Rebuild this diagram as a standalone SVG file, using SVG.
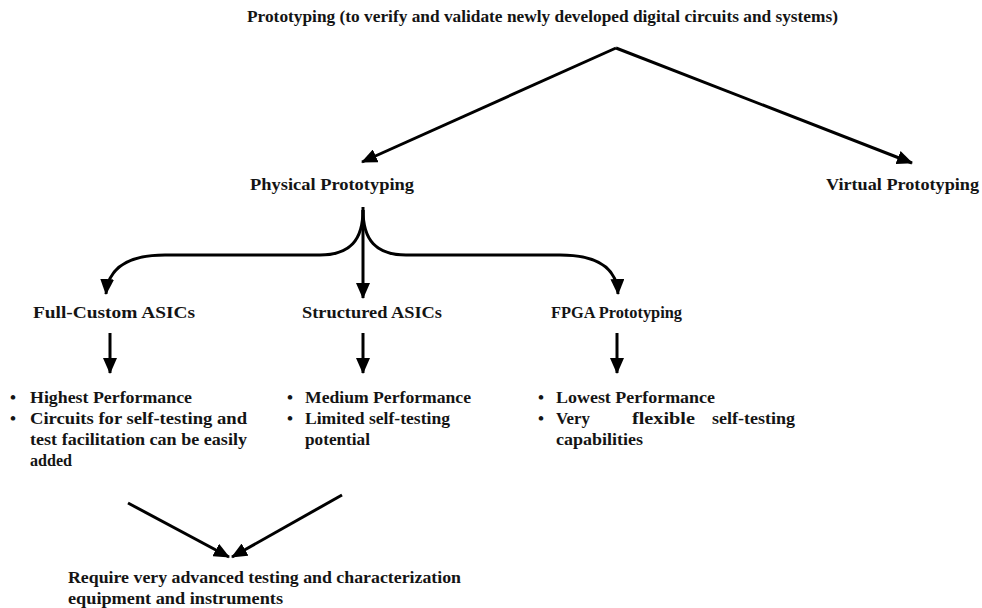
<svg xmlns="http://www.w3.org/2000/svg" width="982" height="608" viewBox="0 0 982 608">
<style>
text{font-family:"Liberation Serif","Times New Roman",serif;font-weight:bold;font-size:17px;fill:#141414}
.c{fill:none;stroke:#000;stroke-width:3}
</style>
<defs>
<marker id="ah" markerUnits="userSpaceOnUse" markerWidth="16" markerHeight="14" refX="15" refY="7" orient="auto">
<path d="M0,0 L16,7 L0,14 Z" fill="#000"/>
</marker>
</defs>
<rect width="982" height="608" fill="#fff"/>
<g id="connectors">
<path class="c" d="M616,48 L362,162" marker-end="url(#ah)"/>
<path class="c" d="M616,48 L912,163" marker-end="url(#ah)"/>
<path class="c" d="M363,207 L363,298" marker-end="url(#ah)"/>
<path class="c" d="M363,210 C363,240 350,255 320,255 L165,255 C128,255 108,268 106,294" marker-end="url(#ah)"/>
<path class="c" d="M363,210 C363,240 376,255 406,255 L560,255 C598,255 617,268 618,294" marker-end="url(#ah)"/>
<path class="c" d="M110,333 L110,373" marker-end="url(#ah)"/>
<path class="c" d="M363,333 L363,373" marker-end="url(#ah)"/>
<path class="c" d="M617,333 L617,373" marker-end="url(#ah)"/>
<path class="c" d="M128,503 L229,557" marker-end="url(#ah)"/>
<path class="c" d="M342,495 L232,557" marker-end="url(#ah)"/>
</g>
<g id="root"><text x="247" y="22" textLength="591" lengthAdjust="spacingAndGlyphs">Prototyping (to verify and validate newly developed digital circuits and systems)</text></g>
<g id="physical"><text x="250" y="190" textLength="164" lengthAdjust="spacingAndGlyphs">Physical Prototyping</text></g>
<g id="virtual"><text x="826" y="190" textLength="153" lengthAdjust="spacingAndGlyphs">Virtual Prototyping</text></g>
<g id="fullcustom"><text x="33" y="318" textLength="162" lengthAdjust="spacingAndGlyphs">Full-Custom ASICs</text></g>
<g id="structured"><text x="302" y="318" textLength="140" lengthAdjust="spacingAndGlyphs">Structured ASICs</text></g>
<g id="fpga"><text x="551" y="318" textLength="131" lengthAdjust="spacingAndGlyphs">FPGA Prototyping</text></g>
<g id="fullcustom-notes">
<text x="10" y="403">•</text><text x="30" y="403" textLength="162" lengthAdjust="spacingAndGlyphs">Highest Performance</text>
<text x="10" y="424">•</text><text x="30" y="424" textLength="217" lengthAdjust="spacingAndGlyphs">Circuits for self-testing and</text>
<text x="30" y="445" textLength="217" lengthAdjust="spacingAndGlyphs">test facilitation can be easily</text>
<text x="30" y="466" textLength="42" lengthAdjust="spacingAndGlyphs">added</text>
</g>
<g id="structured-notes">
<text x="287" y="403">•</text><text x="305" y="403" textLength="166" lengthAdjust="spacingAndGlyphs">Medium Performance</text>
<text x="287" y="424">•</text><text x="305" y="424" textLength="145" lengthAdjust="spacingAndGlyphs">Limited self-testing</text>
<text x="305" y="445" textLength="65" lengthAdjust="spacingAndGlyphs">potential</text>
</g>
<g id="fpga-notes">
<text x="538" y="403">•</text><text x="556" y="403" textLength="159" lengthAdjust="spacingAndGlyphs">Lowest Performance</text>
<text x="538" y="424">•</text><text x="556" y="424" textLength="34" lengthAdjust="spacingAndGlyphs">Very</text><text x="632" y="424" textLength="63" lengthAdjust="spacingAndGlyphs">flexible</text><text x="712" y="424" textLength="83" lengthAdjust="spacingAndGlyphs">self-testing</text>
<text x="556" y="445" textLength="87" lengthAdjust="spacingAndGlyphs">capabilities</text>
</g>
<g id="requirement">
<text x="68" y="583" textLength="393" lengthAdjust="spacingAndGlyphs">Require very advanced testing and characterization</text>
<text x="68" y="604" textLength="215" lengthAdjust="spacingAndGlyphs">equipment and instruments</text>
</g>
</svg>
